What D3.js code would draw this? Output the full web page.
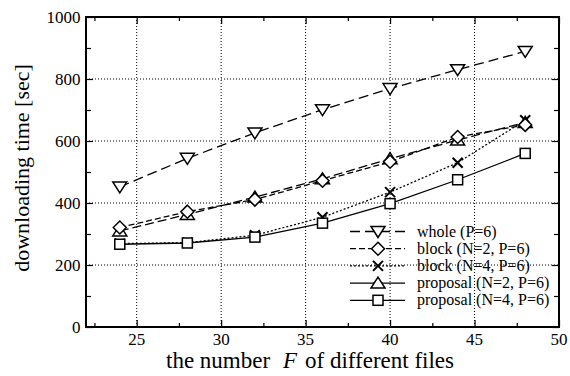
<!DOCTYPE html>
<html>
<head>
<meta charset="utf-8">
<script src="https://cdn.jsdelivr.net/npm/d3@7"></script>
</head>
<body style="margin:0">
<svg id="chart" width="570" height="376"></svg>
<script>
// Number of different files F
const filesF = [24, 28, 32, 36, 40, 44, 48];

// Downloading time [sec] per method
const wholeP6      = [452, 544, 626, 701, 769, 830, 889];
const blockN2P6    = [321, 372, 411, 472, 533, 613, 652];
const blockN4P6    = [269, 272, 296, 354, 435, 530, 667];
const proposalN2P6 = [310, 363, 419, 478, 543, 603, 660];
const proposalN4P6 = [267, 271, 290, 335, 398, 475, 560];

const seriesNames = [
  "whole (P=6)",
  "block (N=2, P=6)",
  "block (N=4, P=6)",
  "proposal (N=2, P=6)",
  "proposal (N=4, P=6)"
];
const seriesValues = [wholeP6, blockN2P6, blockN4P6, proposalN2P6, proposalN4P6];
const seriesMarkers = ["triDown", "diamond", "cross", "triUp", "square"];
const seriesDash = ["10,5", "6,3", "2,2", "9,4", null];
const legendDash = ["10,5", "6,3", "2,2", null, null];

const xTicks = [25, 30, 35, 40, 45, 50];
const yTicks = [0, 200, 400, 600, 800, 1000];

const FONT = "Liberation Serif";

const svg = d3.select("#chart");
const m = { left: 86, right: 11, top: 17, bottom: 49 };
const W = 570, H = 376;

const x = d3.scaleLinear().domain([22, 50]).range([m.left, W - m.right]);
const y = d3.scaleLinear().domain([0, 1000]).range([H - m.bottom, m.top]);

const plot = svg.append("g");

// Dotted grid at major ticks
plot.append("g").selectAll("line").data(xTicks.filter(t => t < 50)).join("line")
  .attr("x1", d => x(d)).attr("x2", d => x(d))
  .attr("y1", y(0)).attr("y2", y(1000))
  .attr("stroke", "#000").attr("stroke-width", 1).attr("stroke-dasharray", "1,2");
plot.append("g").selectAll("line").data(yTicks.filter(t => t > 0 && t < 1000)).join("line")
  .attr("x1", x(22)).attr("x2", x(50))
  .attr("y1", d => y(d)).attr("y2", d => y(d))
  .attr("stroke", "#000").attr("stroke-width", 1).attr("stroke-dasharray", "1,2");

// Inward ticks on all four sides
const xMinor = d3.range(22.5, 50, 2.5).filter(v => Math.abs(v % 5) > 0.01);
const yMinor = d3.range(100, 1000, 200);

function tickAxis(axis, g) {
  g.call(axis);
  g.select(".domain").remove();
  g.selectAll(".tick line").attr("stroke", "#000").attr("stroke-width", 1.2);
  g.selectAll(".tick text").remove();
}

svg.append("g").attr("transform", `translate(0,${y(0)})`)
  .call(g => tickAxis(d3.axisBottom(x).tickValues(xTicks).tickSize(-7), g));
svg.append("g").attr("transform", `translate(0,${y(0)})`)
  .call(g => tickAxis(d3.axisBottom(x).tickValues(xMinor).tickSize(-4), g));
svg.append("g").attr("transform", `translate(0,${y(1000)})`)
  .call(g => tickAxis(d3.axisTop(x).tickValues(xTicks).tickSize(-7), g));
svg.append("g").attr("transform", `translate(0,${y(1000)})`)
  .call(g => tickAxis(d3.axisTop(x).tickValues(xMinor).tickSize(-4), g));
svg.append("g").attr("transform", `translate(${x(22)},0)`)
  .call(g => tickAxis(d3.axisLeft(y).tickValues(yTicks).tickSize(-7), g));
svg.append("g").attr("transform", `translate(${x(22)},0)`)
  .call(g => tickAxis(d3.axisLeft(y).tickValues(yMinor).tickSize(-5), g));
svg.append("g").attr("transform", `translate(${x(50)},0)`)
  .call(g => tickAxis(d3.axisRight(y).tickValues(yTicks).tickSize(-7), g));
svg.append("g").attr("transform", `translate(${x(50)},0)`)
  .call(g => tickAxis(d3.axisRight(y).tickValues(yMinor).tickSize(-5), g));

// Tick labels
svg.append("g").selectAll("text").data(xTicks).join("text")
  .attr("x", d => x(d)).attr("y", y(0) + 17.5)
  .attr("text-anchor", "middle").attr("font-size", 17).attr("font-family", FONT)
  .text(d => d);
svg.append("g").selectAll("text").data(yTicks).join("text")
  .attr("x", x(22) - 5.5).attr("y", d => y(d) + 5.8)
  .attr("text-anchor", "end").attr("font-size", 17).attr("font-family", FONT)
  .text(d => d);

// Frame
svg.append("rect")
  .attr("x", x(22)).attr("y", y(1000))
  .attr("width", x(50) - x(22)).attr("height", y(0) - y(1000))
  .attr("fill", "none").attr("stroke", "#000").attr("stroke-width", 2);

// Marker shapes
function drawMarker(g, type, cx, cy) {
  if (type === "triDown") {
    g.append("path").attr("d", `M${cx - 7},${cy - 5} L${cx + 7},${cy - 5} L${cx},${cy + 6} Z`)
      .attr("fill", "#fff").attr("stroke", "#000").attr("stroke-width", 1.5);
  } else if (type === "triUp") {
    g.append("path").attr("d", `M${cx - 7},${cy + 5} L${cx + 7},${cy + 5} L${cx},${cy - 6} Z`)
      .attr("fill", "#fff").attr("stroke", "#000").attr("stroke-width", 1.5);
  } else if (type === "diamond") {
    g.append("path").attr("d", `M${cx},${cy - 6.5} L${cx + 6.5},${cy} L${cx},${cy + 6.5} L${cx - 6.5},${cy} Z`)
      .attr("fill", "#fff").attr("stroke", "#000").attr("stroke-width", 1.5);
  } else if (type === "square") {
    g.append("rect").attr("x", cx - 5).attr("y", cy - 5).attr("width", 10).attr("height", 10)
      .attr("fill", "#fff").attr("stroke", "#000").attr("stroke-width", 1.5);
  } else if (type === "cross") {
    g.append("path").attr("d", `M${cx - 5},${cy - 5} L${cx + 5},${cy + 5} M${cx - 5},${cy + 5} L${cx + 5},${cy - 5}`)
      .attr("fill", "none").attr("stroke", "#000").attr("stroke-width", 2);
  }
}

const line = d3.line().x((d, i) => x(filesF[i])).y(d => y(d));

// Lines first, then markers on top
const order = [3, 2, 1, 0, 4];
order.forEach(s => {
  plot.append("path").datum(seriesValues[s])
    .attr("d", line)
    .attr("fill", "none").attr("stroke", "#000").attr("stroke-width", 1.3)
    .attr("stroke-dasharray", seriesDash[s]);
});
order.forEach(s => {
  const g = plot.append("g");
  seriesValues[s].forEach((v, i) => drawMarker(g, seriesMarkers[s], x(filesF[i]), y(v)));
});

// Legend
const legend = svg.append("g");
const legY0 = 231.5, legDy = 17.2;
seriesNames.forEach((name, s) => {
  const ly = legY0 + s * legDy;
  legend.append("line").attr("x1", 350).attr("x2", 405).attr("y1", ly).attr("y2", ly)
    .attr("stroke", "#000").attr("stroke-width", 1.3).attr("stroke-dasharray", legendDash[s]);
  drawMarker(legend, seriesMarkers[s], 378, ly);
  legend.append("text").attr("x", 417).attr("y", ly + 5)
    .attr("font-family", FONT).attr("font-size", 16).text(name);
});

// Axis titles
const xTitle = svg.append("g").attr("font-family", FONT).attr("font-size", 23);
xTitle.append("text").attr("x", 166).attr("y", 368).text("the number");
xTitle.append("text").attr("x", 283).attr("y", 368).attr("font-style", "italic").text("F");
xTitle.append("text").attr("x", 305).attr("y", 368).text("of different files");

svg.append("text")
  .attr("transform", "translate(29,168) rotate(-90)")
  .attr("text-anchor", "middle").attr("font-size", 22).attr("font-family", FONT)
  .text("downloading time [sec]");
</script>
</body>
</html>
